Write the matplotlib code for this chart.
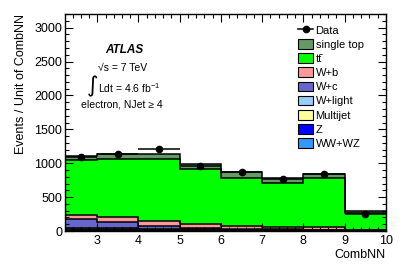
import numpy as np
import matplotlib.pyplot as plt
from matplotlib.patches import Patch
from matplotlib.lines import Line2D
from matplotlib.ticker import MultipleLocator

plt.rcParams['font.family'] = ['Liberation Sans', 'DejaVu Sans']
plt.rcParams['mathtext.fontset'] = 'custom'
plt.rcParams['mathtext.rm'] = 'Liberation Sans'
plt.rcParams['mathtext.it'] = 'Liberation Sans:italic'

# bin edges of CombNN
edges = [2.22, 3, 4, 5, 6, 7, 8, 9, 10]

# stacked backgrounds, bottom to top (events / unit of CombNN)
ww_wz = [5, 5, 4, 3, 3, 2, 2, 1]
z_jets = [10, 8, 6, 4, 3, 3, 2, 1]
multijet = [15, 12, 8, 8, 6, 5, 5, 2]
w_light = [20, 15, 12, 10, 8, 7, 6, 2]
w_c = [133, 94, 44, 15, 10, 8, 7, 2]
w_b = [57, 70, 79, 60, 40, 28, 30, 4]
ttbar = [805, 859, 912, 815, 715, 652, 733, 256]
single_top = [68, 79, 77, 79, 86, 75, 61, 24]

data = [1085, 1135, 1205, 960, 865, 770, 840, 255]

layers = [
    (ww_wz, '#3399ff', 'WW+WZ'),
    (z_jets, '#0000ff', 'Z'),
    (multijet, '#ffff99', 'Multijet'),
    (w_light, '#99ccff', 'W+light'),
    (w_c, '#6666cc', 'W+c'),
    (w_b, '#ff9999', 'W+b'),
    (ttbar, '#00ff00', 'tt\u0304'),
    (single_top, '#669966', 'single top'),
]

fig = plt.figure(figsize=(4.07, 2.76), dpi=100)
ax = fig.add_axes([0.160, 0.163, 0.788, 0.786])

edges = np.array(edges)
bottom = np.zeros(len(edges) - 1)
for vals, col, lab in layers:
    top = bottom + np.array(vals)
    ax.stairs(top, edges, baseline=bottom, fill=True, color=col, lw=0)
    bottom = top
# outlines of every stacked level
bottom = np.zeros(len(edges) - 1)
for vals, col, lab in layers:
    bottom = bottom + np.array(vals)
    ax.stairs(bottom, edges, baseline=None, color='black', lw=1.1)

centers = 0.5 * (edges[1:] + edges[:-1])
half = 0.5 * (edges[1:] - edges[:-1])
ax.errorbar(centers, data, xerr=half, fmt='o', color='black', ms=4.5,
            elinewidth=1.1, capsize=0, zorder=5)

ax.set_xlim(edges[0], 10)
ax.set_ylim(0, 3200)
ax.xaxis.set_major_locator(MultipleLocator(1))
ax.xaxis.set_minor_locator(MultipleLocator(0.2))
ax.yaxis.set_major_locator(MultipleLocator(500))
ax.yaxis.set_minor_locator(MultipleLocator(100))
ax.tick_params(which='both', direction='in', top=True, right=True, labelsize=9)
ax.tick_params(which='major', length=6, width=0.8)
ax.tick_params(which='minor', length=3, width=0.8)
ax.tick_params(axis='x', pad=3)
ax.tick_params(axis='y', pad=2)
for s in ax.spines.values():
    s.set_linewidth(1.0)

ax.set_xlabel('CombNN', fontsize=9, loc='right')
ax.xaxis.set_label_coords(1.0, -0.085)
ax.set_ylabel('Events / Unit of CombNN', fontsize=9, loc='top')
ax.yaxis.set_label_coords(-0.118, 1.0)

ax.text(0.184, 0.834, 'ATLAS', transform=ax.transAxes, fontsize=8.5,
        fontweight='bold', fontstyle='italic', ha='center', va='center')
ax.text(0.103, 0.751, '\u221as = 7 TeV', transform=ax.transAxes, fontsize=7.5,
        ha='left', va='center')
ax.text(0.068, 0.668, '\u222b', transform=ax.transAxes, fontsize=16,
        ha='left', va='center', family=['DejaVu Sans'])
ax.text(0.103, 0.659, r'Ldt = 4.6 fb$^{-1}$', transform=ax.transAxes,
        fontsize=7.5, ha='left', va='center')
ax.text(0.05, 0.581, 'electron, NJet \u2265 4', transform=ax.transAxes,
        fontsize=7.5, ha='left', va='center')

handles = [Line2D([], [], color='black', marker='o', ms=4.5, lw=1.1)]
labels = ['Data']
for vals, col, lab in reversed(layers):
    handles.append(Patch(facecolor=col, edgecolor='black', lw=0.8))
    labels.append(lab)
ax.legend(handles, labels, loc='upper left', bbox_to_anchor=(0.727, 0.95),
          frameon=False, fontsize=8, borderpad=0, borderaxespad=0,
          labelspacing=0.32, handlelength=1.35, handleheight=0.95,
          handletextpad=0.2)

fig.savefig('out.png', dpi=100)
